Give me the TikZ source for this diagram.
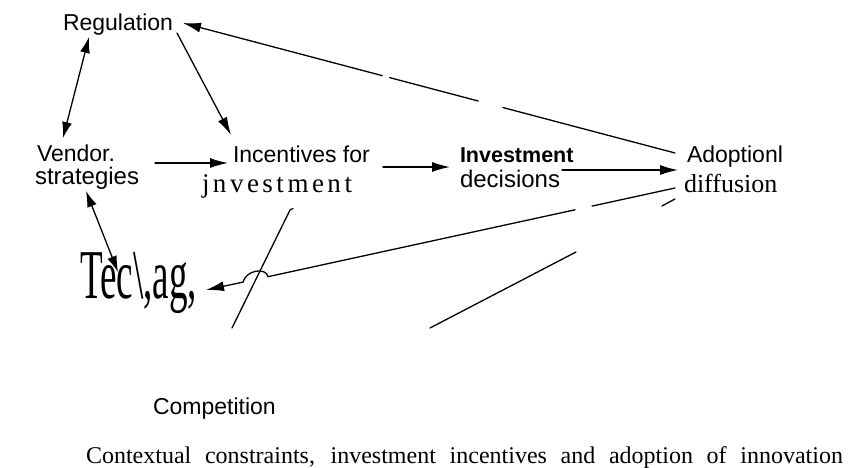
\documentclass[tikz,border=0pt]{standalone}
\usepackage{fontspec}
\usepackage{graphicx}
\setmainfont{Liberation Serif}
\newfontfamily\lsans{Liberation Sans}
\usetikzlibrary{arrows.meta,calc}
\begin{document}
\begin{tikzpicture}[x=1pt,y=-1pt,
  lbl/.style={anchor=base west, inner sep=0pt, outer sep=0pt},
  conn/.style={line width=1.3pt, line cap=round},
  arr/.style={conn, -{Latex[length=18pt,width=10pt]}},
  darr/.style={conn, {Latex[length=16pt,width=10pt]}-{Latex[length=16pt,width=10pt]}},
  sansA/.style={font=\lsans\fontsize{23}{27}\selectfont},
  sansB/.style={font=\lsans\fontsize{24}{28}\selectfont},
  sansBold/.style={font=\lsans\bfseries\fontsize{21.5}{26}\selectfont},
  serifJ/.style={font=\fontsize{27}{32}\selectfont},
  serifD/.style={font=\fontsize{26}{30}\selectfont},
  serifC/.style={font=\fontsize{24}{28}\selectfont}
]
\fill[white] (0,0) rectangle (862,468);
\path[use as bounding box] (0,0) rectangle (862,468);

% ---- labels ----
\node[lbl, sansA] (reg) at (63,31) {Regulation};
\node[lbl, sansA] (ven1) at (37,161) {Vendor.};
\node[lbl, sansB] (ven2) at (35,184) {strategies};
\node[lbl, sansA] (inc1) at (233,163) {Incentives for};
\node[lbl, serifJ] (inc2) at (202,193) {\makebox[150pt]{j\hfill n\hfill v\hfill e\hfill s\hfill t\hfill m\hfill e\hfill n\hfill t}};
\node[lbl, sansBold] (inv1) at (460,163) {Investment};
\node[lbl, sansB] (inv2) at (460,187) {decisions};
\node[lbl, sansA] (ado1) at (687,163) {Adoptionl};
\node[lbl, serifD] (ado2) at (684,193) {diffusion};
\node[lbl] (tec) at (80,298) {\scalebox{0.53}[1]{\fontsize{70}{70}\selectfont Tec\textbackslash,ag,}};
\node[lbl, sansA] (comp) at (153,414) {Competition};
\node[lbl, serifC] (cap) at (86,463) {\makebox[757pt][s]{Contextual constraints, investment incentives and adoption of innovation}};

% ---- connector end points ----
\coordinate (regA) at (89,37);   \coordinate (venA) at (63,138);
\coordinate (regB) at (177,33);  \coordinate (incA) at (231,135);
\coordinate (adoA) at (675,153); \coordinate (regC) at (183,23);
\coordinate (venB) at (155,163); \coordinate (incB) at (228,163);
\coordinate (incC) at (383,167); \coordinate (invA) at (450,167);
\coordinate (invB) at (562,170); \coordinate (adoB) at (678,170);
\coordinate (venC) at (86,191);  \coordinate (tecA) at (118,272);
\coordinate (adoC) at (675,188); \coordinate (tecB) at (206,290);
\coordinate (adoD) at (675,199);
\coordinate (compTop) at (290,210); \coordinate (compBot) at (232,328);
\coordinate (compLow) at (430,328);

% gaps (scan breaks) along lines
\coordinate (g1a) at ($(adoA)!0.35!(regC)$);
\coordinate (g1b) at ($(adoA)!0.40!(regC)$);
\coordinate (g2a) at ($(adoA)!0.58!(regC)$);
\coordinate (g2b) at ($(adoA)!0.595!(regC)$);

% ---- connectors ----
\draw[darr] (regA) -- (venA);
\draw[arr] (regB) -- (incA);
\draw[conn] (adoA) -- (g1a);
\draw[conn] (g1b) -- (g2a);
\draw[arr] (g2b) -- (regC);
\draw[arr] (venB) -- (incB);
\draw[arr] (incC) -- (invA);
\draw[arr] (invB) -- (adoB);
\draw[darr] (venC) -- (tecA);

% Adoption -> Tec (with gap and hop over)
\coordinate (h1) at (592,206.1);
\coordinate (h2) at (575,209.8);
\coordinate (b1) at (268,276.7);
\coordinate (b2) at (243,282.1);
\draw[conn] (adoC) -- (h1);
\draw[arr] (h2) -- (b1) .. controls (266,267) and (246,270) .. (b2) -- (tecB);

% slanted line crossing
\draw[conn] (293,208.5) -- (compTop) -- (compBot);

% Adoption -- lower line with big gap
\coordinate (l1) at (662,206);
\coordinate (l2) at (576,252);
\draw[conn] (adoD) -- (l1);
\draw[conn] (l2) -- (compLow);
\end{tikzpicture}
\end{document}
